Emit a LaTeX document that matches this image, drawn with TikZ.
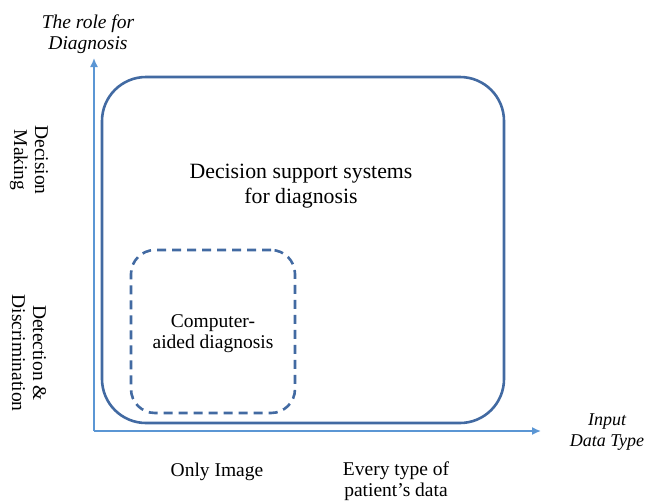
\documentclass[tikz,border=0pt]{standalone}
\usepackage{fontspec}
\setmainfont{Liberation Serif}
\usetikzlibrary{positioning,arrows.meta}
\definecolor{boxblue}{RGB}{66,106,162}
\definecolor{axisblue}{RGB}{91,150,212}

\begin{document}
\begin{tikzpicture}[x=1pt,y=-1pt,
    axisline/.style={draw=axisblue,line width=1.5pt,
      -{Latex[length=9pt,width=8pt]}},
    bigbox/.style={draw=boxblue,line width=2.6pt,rounded corners=44pt},
    cadbox/.style={draw=boxblue,line width=2.6pt,rounded corners=24pt,
      dash pattern=on 9pt off 6pt},
    lbl/.style={align=center,font=\fontsize{19.5}{21}\selectfont,inner sep=0pt},
    axislbl/.style={lbl,font=\fontsize{18}{21}\selectfont\itshape}
  ]
  \useasboundingbox (0,0) rectangle (648,501);

  % axes
  \coordinate (origin) at (94,431);
  \coordinate (ytip) at (94,58);
  \coordinate (xtip) at (541,431);
  \draw[axisline] (origin) -- (ytip);
  \draw[axisline] (origin) -- (xtip);

  % regions
  \node[bigbox,minimum width=402pt,minimum height=346pt] (dss) at (303,250) {};
  \node[cadbox,minimum width=164pt,minimum height=163pt] (cad) at (213,331.5) {};

  \node[lbl,font=\fontsize{21.8}{25}\selectfont] (dsstext) at (301,186)
    {Decision support systems\\for diagnosis};
  \node[lbl] (cadtext) at (213,334) {Computer-\\aided diagnosis};

  % axis labels
  \node[axislbl,font=\fontsize{19.5}{21}\selectfont\itshape] (ylab) at (88,34)
    {The role for\\Diagnosis};
  \node[axislbl] (xlab) at (607,432) {Input\\Data Type};

  \node[lbl,rotate=-90] (decision) at (29,160) {Decision\\Making};
  \node[lbl,rotate=-90] (detection) at (29,353) {Detection \&\\Discrimination};

  \node[lbl,anchor=base] (onlyimg) at (217,476) {Only Image};
  \node[lbl] (everytype) at (396,481) {Every type of\\patient’s data};
\end{tikzpicture}
\end{document}
